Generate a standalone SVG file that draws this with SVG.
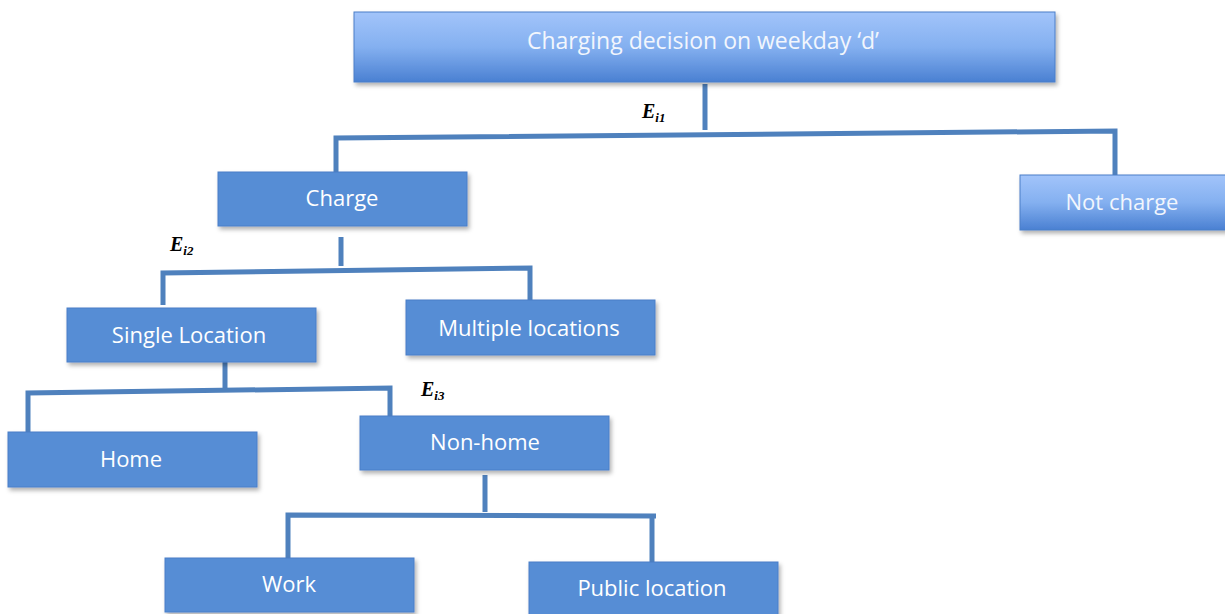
<svg xmlns="http://www.w3.org/2000/svg" width="1225" height="614" viewBox="0 0 1225 614">
<defs>
<linearGradient id="g" x1="0" y1="0" x2="0" y2="1">
<stop offset="0" stop-color="#a2c4fa"/>
<stop offset="0.5" stop-color="#84b0f0"/>
<stop offset="1" stop-color="#4a80d2"/>
</linearGradient>
<filter id="sh" x="-5%" y="-10%" width="115%" height="130%">
<feDropShadow dx="2" dy="3" stdDeviation="2" flood-color="#000" flood-opacity="0.3"/>
</filter>
</defs>
<style>
.box{fill:#568dd5;stroke:#4a7fc8;stroke-width:1;filter:url(#sh)}
.gbox{fill:url(#g);stroke:#4a7fc8;stroke-width:1;filter:url(#sh)}
.lbl{font-family:"Open Sans",sans-serif;font-size:22px;fill:#fff;text-anchor:middle;dominant-baseline:central}
.conn{fill:none;stroke:#4f81bd;stroke-width:5}
.e{font-family:"Liberation Serif",serif;font-style:italic;font-weight:bold;font-size:20px;fill:#000}
.sub{font-size:13px}
</style>
<rect width="1225" height="614" fill="#fff"/>
<g id="connectors">
<path class="conn" d="M705 84V130"/>
<path class="conn" d="M336 172V138L1115 131V175"/>
<path class="conn" d="M341 237V266"/>
<path class="conn" d="M163 305V273L530 268V300"/>
<path class="conn" d="M225 362V389"/>
<path class="conn" d="M28 432V393L390 388V418"/>
<path class="conn" d="M485 475V512"/>
<path class="conn" d="M288 558V515L656 516M652 516V562"/>
</g>
<g id="n-root"><rect class="gbox" x="354" y="12" width="701" height="70"/><text class="lbl" x="703" y="40" style="font-size:23px;fill:#f2f6fd">Charging decision on weekday ‘d’</text></g>
<g id="n-charge"><rect class="box" x="218" y="172" width="249" height="54"/><text class="lbl" x="342" y="197">Charge</text></g>
<g id="n-notcharge"><rect class="gbox" x="1020" y="175" width="210" height="55"/><text class="lbl" x="1122" y="201" style="fill:#f2f6fd">Not charge</text></g>
<g id="n-single"><rect class="box" x="67" y="308" width="249" height="54"/><text class="lbl" x="189" y="334">Single Location</text></g>
<g id="n-multiple"><rect class="box" x="406" y="300" width="249" height="55"/><text class="lbl" x="529" y="327">Multiple locations</text></g>
<g id="n-home"><rect class="box" x="8" y="432" width="249" height="55"/><text class="lbl" x="131" y="458">Home</text></g>
<g id="n-nonhome"><rect class="box" x="360" y="416" width="249" height="54"/><text class="lbl" x="485" y="441">Non-home</text></g>
<g id="n-work"><rect class="box" x="165" y="558" width="249" height="54"/><text class="lbl" x="289" y="583">Work</text></g>
<g id="n-public"><rect class="box" x="529" y="562" width="249" height="56"/><text class="lbl" x="652" y="587">Public location</text></g>
<g id="labels">
<text class="e" x="642" y="118">E<tspan class="sub" dy="4">i1</tspan></text>
<text class="e" x="170" y="251">E<tspan class="sub" dy="4">i2</tspan></text>
<text class="e" x="421" y="396">E<tspan class="sub" dy="4">i3</tspan></text>
</g>
</svg>
